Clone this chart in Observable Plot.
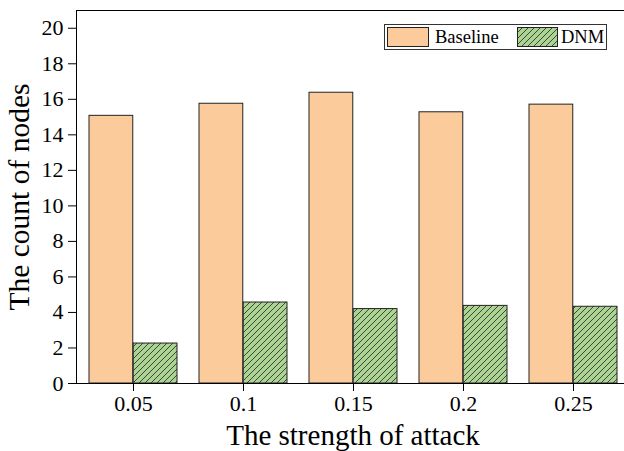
<!DOCTYPE html>
<html>
<head>
<meta charset="utf-8">
<script src="https://cdn.jsdelivr.net/npm/d3@7"></script>
<script src="https://cdn.jsdelivr.net/npm/@observablehq/plot@0.6"></script>
<style>
  html, body { margin: 0; padding: 0; background: white; overflow: hidden; }
  #wrap { position: relative; width: 624px; height: 451px; overflow: hidden; }
  #wrap svg { max-width: none !important; }
  #wrap svg text { fill: black; }
  g[aria-label="x-axis tick label"] text, g[aria-label="y-axis tick label"] text { font-size: 22px; }
  g[aria-label="x-axis label"] text { font-size: 29px; }
  g[aria-label="y-axis label"] text { font-size: 29.5px; }
  #legend {
    position: absolute; left: 384px; top: 24px; width: 221px; height: 24px;
    border: 1px solid #333; background: white;
    font-family: "Liberation Serif", serif; font-size: 18.5px; color: black;
  }
  #legend .sw { position: absolute; top: 2px; }
  #legend .lab { position: absolute; top: 1px; line-height: 22px; }
</style>
</head>
<body>
<div id="wrap"></div>
<script>
const categories = ["0.05", "0.1", "0.15", "0.2", "0.25"];
const baselineValues = [15.07, 15.75, 16.37, 15.27, 15.70];
const dnmValues = [2.25, 4.56, 4.19, 4.37, 4.32];
const yTicks = [0, 2, 4, 6, 8, 10, 12, 14, 16, 18, 20];
const seriesNames = ["Baseline", "DNM"];

const data = categories.map((c, i) => ({cat: c, baseline: baselineValues[i], dnm: dnmValues[i]}));

const W = 630, H = 451, ML = 76, MR = 1, MT = 10, MB = 68;
const padIn = 0.2, padOut = 0.1;
const step = (W - ML - MR) / (categories.length - padIn + 2 * padOut);
const half = step * (1 - padIn) / 2;

const orange = "#fbcb9c";
const green = "#abd392";

const plot = Plot.plot({
  width: W, height: H,
  marginLeft: ML, marginRight: MR, marginTop: MT, marginBottom: MB,
  style: {fontFamily: "'Liberation Serif', serif", fontSize: "22px", color: "black", background: "white", overflow: "visible", maxWidth: "none"},
  x: {domain: categories, paddingInner: padIn, paddingOuter: padOut},
  y: {domain: [0, 21]},
  marks: [
    Plot.barY(data, {x: "cat", y: "baseline", fill: orange, stroke: "#222", strokeWidth: 1, insetRight: half}),
    Plot.barY(data, {x: "cat", y: "dnm", fill: "url(#hatch)", stroke: "#222", strokeWidth: 1, insetLeft: half}),
    Plot.frame({stroke: "black", strokeWidth: 1}),
    Plot.axisX({tickSize: 8, tickPadding: 4, label: "The strength of attack", labelAnchor: "center", labelOffset: 61, labelArrow: "none"}),
    Plot.axisY({ticks: yTicks, tickSize: 8, tickPadding: 5, label: "The count of nodes", labelAnchor: "center", labelOffset: 68, labelArrow: "none"})
  ]
});

const ns = "http://www.w3.org/2000/svg";
function addHatch(svg, id) {
  const defs = document.createElementNS(ns, "defs");
  defs.innerHTML = `<pattern id="${id}" patternUnits="userSpaceOnUse" width="6" height="6">
      <rect width="6" height="6" fill="${green}"></rect>
      <path d="M-1,1 l2,-2 M0,6 l6,-6 M5,7 l2,-2" stroke="#222" stroke-width="0.8"></path>
    </pattern>`;
  svg.insertBefore(defs, svg.firstChild);
}
addHatch(plot, "hatch");
document.getElementById("wrap").appendChild(plot);

// legend (inside plot area, top right)
const legend = document.createElement("div");
legend.id = "legend";
legend.innerHTML = `
  <svg class="sw" style="left:2px" width="42" height="20"><rect x="0.5" y="0.5" width="41" height="19" fill="${orange}" stroke="#222"></rect></svg>
  <span class="lab" style="left:50px">${seriesNames[0]}</span>
  <svg class="sw" style="left:132px" width="41" height="20">
    <defs><pattern id="hatchL" patternUnits="userSpaceOnUse" width="6" height="6">
      <rect width="6" height="6" fill="${green}"></rect>
      <path d="M-1,1 l2,-2 M0,6 l6,-6 M5,7 l2,-2" stroke="#222" stroke-width="0.8"></path>
    </pattern></defs>
    <rect x="0.5" y="0.5" width="40" height="19" fill="url(#hatchL)" stroke="#222"></rect></svg>
  <span class="lab" style="left:176px">${seriesNames[1]}</span>`;
document.getElementById("wrap").appendChild(legend);
</script>
</body>
</html>
